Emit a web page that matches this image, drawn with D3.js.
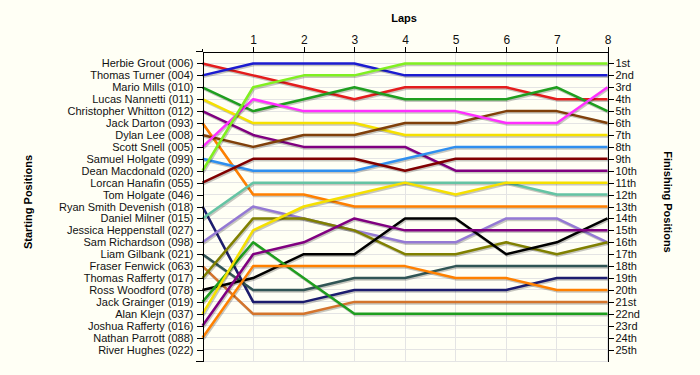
<!DOCTYPE html>
<html>
<head>
<meta charset="utf-8">
<script src="https://cdn.jsdelivr.net/npm/d3@7"></script>
<style>
  body { margin: 0; background: #fffff5; }
  svg { display: block; font-family: "Liberation Sans", Arial, sans-serif; }
  .axis text { font-size: 11px; fill: #111; }
  .axis path, .axis line { stroke: #000; shape-rendering: crispEdges; }
  .grid line { stroke: #e4e4e4; shape-rendering: crispEdges; }
  .title { font-size: 11px; font-weight: bold; }
</style>
</head>
<body>
<div id="chart"></div>
<script>
// starting grid, top to bottom
var drivers = ["Herbie Grout (006)", "Thomas Turner (004)", "Mario Mills (010)", "Lucas Nannetti (011)",
  "Christopher Whitton (012)", "Jack Darton (093)", "Dylan Lee (008)", "Scott Snell (005)",
  "Samuel Holgate (099)", "Dean Macdonald (020)", "Lorcan Hanafin (055)", "Tom Holgate (046)",
  "Ryan Smith Devenish (018)", "Daniel Milner (015)", "Jessica Heppenstall (027)", "Sam Richardson (098)",
  "Liam Gilbank (021)", "Fraser Fenwick (063)", "Thomas Rafferty (017)", "Ross Woodford (078)",
  "Jack Grainger (019)", "Alan Klejn (037)", "Joshua Rafferty (016)", "Nathan Parrott (088)",
  "River Hughes (022)"];

var laps = [0, 1, 2, 3, 4, 5, 6, 7, 8];

var places = ["1st", "2nd", "3rd", "4th", "5th", "6th", "7th", "8th", "9th", "10th", "11th", "12th", "13th",
  "14th", "15th", "16th", "17th", "18th", "19th", "20th", "21st", "22nd", "23rd", "24th", "25th"];

// position at the end of each lap (lap 0 = grid), null = no line
var positions = [
  [1, 2, 3, 4, 3, 3, 3, 4, 4],
  [2, 1, 1, 1, 2, 2, 2, 2, 2],
  [3, 5, 4, 3, 4, 4, 4, 3, 5],
  [4, 6, 6, 6, 7, 7, 7, 7, 7],
  [5, 7, 8, 8, 8, 10, 10, 10, 10],
  [6, 12, 12, 13, 13, 13, 13, 13, 13],
  [7, 8, 7, 7, 6, 6, 5, 5, 6],
  [8, 4, 5, 5, 5, 5, 6, 6, 3],
  [9, 10, 10, 10, 9, 8, 8, 8, 8],
  [10, 3, 2, 2, 1, 1, 1, 1, 1],
  [11, 9, 9, 9, 10, 9, 9, 9, 9],
  null,
  [13, 21, 21, 20, 20, 20, 20, 19, 19],
  [14, 11, 11, 11, 11, 11, 11, 12, 12],
  null,
  [16, 13, 14, 15, 16, 16, 14, 14, 16],
  [17, 20, 20, 19, 19, 18, 18, 18, 18],
  [18, 22, 22, 21, 21, 21, 21, 21, 21],
  [19, 14, 14, 15, 17, 17, 16, 17, 16],
  [20, 19, 17, 17, 14, 14, 17, 16, 14],
  [21, 16, 19, 22, 22, 22, 22, 22, 22],
  [22, 15, 13, 12, 11, 12, 11, 11, 11],
  [23, 17, 16, 14, 15, 15, 15, 15, 15],
  [24, 18, 18, 18, 18, 19, 19, 20, 20],
  null
];

var colors = ["#e41c1c", "#1c1cd0", "#1f9e1f", "#f5e000", "#800080", "#ff8000", "#80400a", "#ff30ff",
  "#2f8fef", "#80f020", "#800000", null, "#1c1c6e", "#64c4a4", null, "#9479d4",
  "#305555", "#d4742c", "#808000", "#000000", "#1f9e1f", "#f5e000", "#800080", "#ff8000", null];

var width = 700, height = 375;

var svg = d3.select("#chart").append("svg")
    .attr("width", width)
    .attr("height", height);

var x = d3.scaleLinear().domain([0, 8]).range([202.5, 607.5]);
var y = d3.scaleLinear().domain([0, 26]).range([51.5, 361.5]);

var rows = places.map(function(d, i){ return i + 1; });

// grid
var grid = svg.append("g").attr("class", "grid");
grid.selectAll("line.v")
    .data(laps.slice(1))
    .enter().append("line")
    .attr("class", "v")
    .attr("x1", function(d){ return x(d); })
    .attr("x2", function(d){ return x(d); })
    .attr("y1", y(0))
    .attr("y2", y(26));
grid.selectAll("line.h")
    .data(rows.concat([26]))
    .enter().append("line")
    .attr("class", "h")
    .attr("x1", x(0))
    .attr("x2", x(8))
    .attr("y1", function(d){ return y(d); })
    .attr("y2", function(d){ return y(d); });

// lines, shadow first
var line = d3.line()
    .x(function(d, i){ return x(laps[i]); })
    .y(function(d){ return y(d); });

positions.forEach(function(p, i){
  if (!p) return;
  svg.append("path")
      .attr("d", line(p))
      .attr("fill", "none")
      .attr("stroke", "#000")
      .attr("stroke-opacity", 0.22)
      .attr("stroke-width", 2.5)
      .attr("transform", "translate(1,1.5)");
  svg.append("path")
      .attr("d", line(p))
      .attr("fill", "none")
      .attr("stroke", colors[i])
      .attr("stroke-width", 2.5)
      .attr("stroke-linejoin", "round");
});

// axes
svg.append("g")
    .attr("class", "x axis")
    .attr("transform", "translate(0," + y(0) + ")")
    .call(d3.axisTop(x).tickValues(laps.slice(1)).tickFormat(d3.format("d")).tickSizeInner(5).tickSizeOuter(0).tickPadding(3))
    .selectAll("text").style("font-size", "12px");

svg.append("line")
    .attr("x1", x(0) - 7).attr("x2", x(0))
    .attr("y1", y(0)).attr("y2", y(0))
    .attr("stroke", "#000").style("shape-rendering", "crispEdges");

svg.append("g")
    .attr("class", "y axis")
    .attr("transform", "translate(" + x(0) + ",0)")
    .call(d3.axisLeft(y).tickValues(rows).tickFormat(function(d){ return drivers[d - 1]; }).tickSizeInner(6).tickSizeOuter(0).tickPadding(3));

svg.append("line")
    .attr("x1", x(0) - 7).attr("x2", x(0))
    .attr("y1", y(26)).attr("y2", y(26))
    .attr("stroke", "#000").style("shape-rendering", "crispEdges");
svg.append("line")
    .attr("x1", x(0)).attr("x2", x(0))
    .attr("y1", y(0) - 3).attr("y2", y(0))
    .attr("stroke", "#000").style("shape-rendering", "crispEdges");

svg.append("g")
    .attr("class", "y axis")
    .attr("transform", "translate(" + x(8) + ",0)")
    .call(d3.axisRight(y).tickValues(rows).tickFormat(function(d){ return places[d - 1]; }).tickSizeInner(6).tickSizeOuter(0).tickPadding(2));

// titles
svg.append("text")
    .attr("class", "title")
    .attr("x", 404).attr("y", 22)
    .attr("text-anchor", "middle")
    .text("Laps");

svg.append("text")
    .attr("class", "title")
    .attr("transform", "translate(32,202) rotate(-90)")
    .attr("text-anchor", "middle")
    .text("Starting Positions");

svg.append("text")
    .attr("class", "title")
    .attr("transform", "translate(664,202) rotate(90)")
    .attr("text-anchor", "middle")
    .text("Finishing Positions");
</script>
</body>
</html>
